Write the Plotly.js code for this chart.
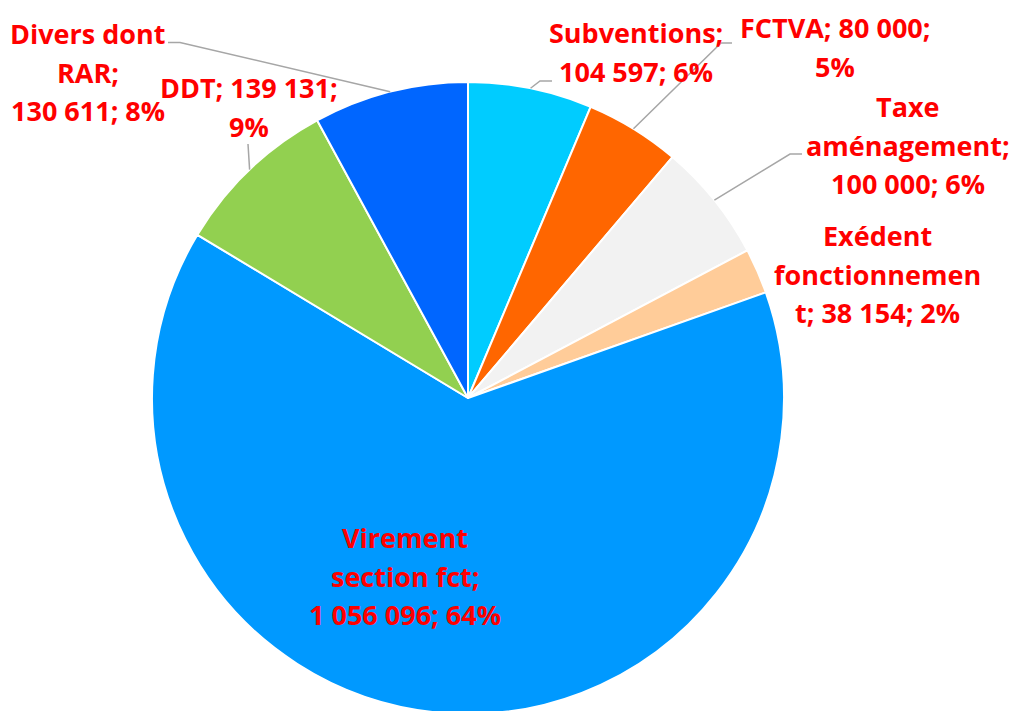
<!DOCTYPE html>
<html><head><meta charset="utf-8">
<script src="https://cdn.plot.ly/plotly-3.0.1.min.js"></script>
<style>html,body{margin:0;padding:0;overflow:hidden;background:#fff}#chart{width:1009px;height:716px}</style>
</head><body><div id="chart"></div>
<script>
// ---- data ----
const categories = ['Subventions','FCTVA','Taxe aménagement','Exédent fonctionnement','Virement section fct','DDT','Divers dont RAR'];
const values = [104597, 80000, 100000, 38154, 1056096, 139131, 130611];
const percentLabels = ['6%','5%','6%','2%','64%','9%','8%'];
const colors = ['#00CCFF','#FF6600','#F2F2F2','#FFCC99','#0099FF','#92D050','#0066FF'];
// label wrapping as in the original ({v}=value, {p}=percent)
const labelTemplates = [
  'Subventions;|{v}; {p}',
  'FCTVA; {v};|{p}',
  'Taxe|aménagement;|{v}; {p}',
  'Exédent|fonctionnemen|t; {v}; {p}',
  'Virement|section fct;|{v}; {p}',
  'DDT; {v};|{p}',
  'Divers dont|RAR;|{v}; {p}'
];

// ---- layout geometry (pixels) ----
const W = 1009, H = 716;
const CX = 468, CY = 398, R = 316;
const labelPos = [[636,52],[835,47],[908,145],[877,274],[405,576],[249,107],[88,72]];
const lineHeight = 38.5;
// leader line knee points (after leaving slice edge), null = no leader
const leaders = [
  [[540,81],[552,81]],
  [[721,43],[732,43]],
  [[790,154],[802,154]],
  null,
  null,
  [[248,144]],
  [[180,42.5],[168,42.5]]
];

const fmt = v => String(v).replace(/\B(?=(\d{3})+(?!\d))/g, ' ');
const px = x => x / W, py = y => 1 - y / H;

const total = values.reduce((a,b)=>a+b,0);
let cum = 0;
const annotations = [], shapes = [];
values.forEach((v,i) => {
  const mid = (cum + v/2) / total; cum += v;
  const ang = mid * 2 * Math.PI;
  const ex = CX + R * Math.sin(ang), ey = CY - R * Math.cos(ang);
  const lines = labelTemplates[i].replace('{v}', fmt(v)).replace('{p}', percentLabels[i]).split('|');
  const [lx, ly] = labelPos[i];
  lines.forEach((t, k) => {
    annotations.push({
      xref:'paper', yref:'paper', x: px(lx), y: py(ly + (k - (lines.length-1)/2) * lineHeight),
      xanchor:'center', yanchor:'middle', showarrow:false, text: t,
      font:{family:'Open Sans', size:27, color:'#FF0000', weight:'bold'}
    });
  });
  if (leaders[i]) {
    let d = `M ${px(ex)} ${py(ey)}`;
    leaders[i].forEach(p => { d += ` L ${px(p[0])} ${py(p[1])}`; });
    shapes.push({type:'path', xref:'paper', yref:'paper', path:d, line:{color:'#A6A6A6', width:1.5}});
  }
});

const trace = {
  type:'pie', labels: categories, values: values, sort:false, direction:'clockwise', rotation:0,
  marker:{colors: colors, line:{color:'#FFFFFF', width:2}},
  textinfo:'none', hoverinfo:'label+value+percent', showlegend:false,
  domain:{x:[px(CX-R), px(CX+R)], y:[py(CY+R), py(CY-R)]}
};

Plotly.newPlot('chart', [trace], {
  width:W, height:H, margin:{l:0,r:0,t:0,b:0,pad:0},
  paper_bgcolor:'#FFFFFF', plot_bgcolor:'#FFFFFF',
  annotations: annotations, shapes: shapes
}, {displayModeBar:false, staticPlot:true});
</script>
</body></html>
